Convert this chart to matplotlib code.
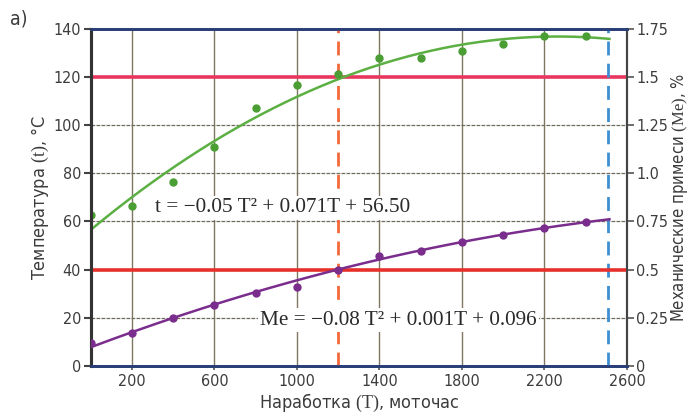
import numpy as np
import matplotlib
matplotlib.use("Agg")
import matplotlib.pyplot as plt
from matplotlib import font_manager

# Operating hours (моточас) at which samples were taken
hours = [0, 200, 400, 600, 800, 1000, 1200, 1400, 1600, 1800, 2000, 2200, 2400]
# Oil temperature, °C (left axis)
temperature = [62.7, 66.5, 76.5, 91.0, 107.0, 116.7, 121.3, 128.0, 127.8, 130.8, 133.8, 137.2, 137.1]
# Mechanical impurities, % (right axis)
impurities = [0.116, 0.171, 0.246, 0.315, 0.380, 0.410, 0.497, 0.570, 0.598, 0.641, 0.679, 0.714, 0.747]

# Quadratic trend coefficients (highest power first)
temp_coef = [-1.568e-5, 0.071, 56.50]
imp_coef = [-5.51e-8, 4.03e-4, 0.096]
trend_end = 2515

# Limits
temp_limit = 120
imp_limit = 0.5
hours_limit = 1200
resource_end = 2510

x_ticks = [200, 600, 1000, 1400, 1800, 2200, 2600]
left_ticks = [0, 20, 40, 60, 80, 100, 120, 140]
right_ticks = [0, 0.25, 0.5, 0.75, 1.0, 1.25, 1.5, 1.75]
right_labels = ["0", "0.25", "0.5", "0.75", "1.0", "1.25", "1.5", "1.75"]

# serif letters inside axis titles
plt.rcParams["mathtext.fontset"] = "custom"
plt.rcParams["mathtext.rm"] = "Liberation Serif"
plt.rcParams["mathtext.it"] = "Liberation Serif:italic"


def cond(size):
    return font_manager.FontProperties(family="DejaVu Sans", stretch="condensed", size=size)


serif = ["Liberation Serif", "DejaVu Serif"]
tick_color = "#3c3c3c"

fig = plt.figure(figsize=(6.89, 4.16), dpi=100)
ax = fig.add_axes([0.1317, 0.1209, 0.7783, 0.8094])
ax2 = ax.twinx()

ax.set_xlim(0, 2600)
ax.set_ylim(0, 140)
ax2.set_ylim(0, 1.75)

# grid
for xv in x_ticks[:-1]:
    ax.axvline(xv, color="#7f765f", lw=1.0, zorder=1)
for yv in [20, 60, 80, 100]:
    ax.axhline(yv, color="#6f6a5c", lw=0.9, ls=(0, (3, 1)), zorder=1)

# limit lines
ax.axhline(temp_limit, color="#e8365e", lw=2.6, zorder=2)
ax2.axhline(imp_limit, color="#e8302a", lw=2.6, zorder=2)
ax.axvline(hours_limit, color="#f4683a", lw=2.0, ls=(0, (5, 3)), zorder=3)
ax.axvline(resource_end, color="#3d8fd1", lw=2.0, ls=(0, (5, 3)), zorder=3)

# temperature trend and points
T = np.linspace(0, trend_end, 300)
ax.plot(T, np.polyval(temp_coef, T), color="#5cb043", lw=1.8, zorder=4)
ax.plot(hours, temperature, "o", color="#4a9e33", ms=5, zorder=5)

# impurity trend and points
ax2.plot(T, np.polyval(imp_coef, T), color="#7a2d8c", lw=1.8, zorder=4)
ax2.plot(hours, impurities, "o", color="#7a2d8c", ms=5, zorder=5)

# equations
ax2.text(311, 65.6 / 80, "t = \u22120.05 T\u00b2 + 0.071T + 56.50", fontsize=15.3,
         family=serif, color="#2a2a2a", va="center", ha="left", zorder=6,
         bbox=dict(facecolor="white", edgecolor="none", pad=1.5))
ax2.text(821, 19.0 / 80, "Me = \u22120.08 T\u00b2 + 0.001T + 0.096", fontsize=15.3,
         family=serif, color="#2a2a2a", va="center", ha="left", zorder=6,
         bbox=dict(facecolor="white", edgecolor="none", pad=1.5))

# ticks
ax.set_xticks(x_ticks)
ax.set_xticklabels([str(v) for v in x_ticks], fontproperties=cond(11.5), color=tick_color)
ax.set_yticks(left_ticks)
ax.set_yticklabels([str(v) for v in left_ticks], fontproperties=cond(11.5), color=tick_color)
ax2.set_yticks(right_ticks)
ax2.set_yticklabels(right_labels, fontproperties=cond(11.5), color=tick_color)
ax.tick_params(axis="x", length=3, width=1.2, color="#555555", pad=3)
ax.tick_params(axis="y", length=5, width=1.5, color="#444444", pad=2)
ax2.tick_params(axis="y", length=5, width=1.2, color="#555555", pad=1.5)

# spines
for a in (ax, ax2):
    a.spines["top"].set_color("#2a3f78")
    a.spines["top"].set_linewidth(2.0)
    a.spines["bottom"].set_color("#2a3f78")
    a.spines["bottom"].set_linewidth(2.0)
    a.spines["left"].set_color("#333333")
    a.spines["left"].set_linewidth(2.2)
    a.spines["right"].set_color("#444444")
    a.spines["right"].set_linewidth(1.5)

ax.set_xlabel("Наработка $\\mathrm{(T)}$, моточас", fontproperties=cond(13),
              color=tick_color, labelpad=2)
ax.set_ylabel("Температура $\\mathrm{(t)}$, °C", fontproperties=cond(13),
              color=tick_color, labelpad=2)
ax2.set_ylabel("Механические примеси $\\mathrm{(Me)}$, %", fontproperties=cond(12),
               color=tick_color, rotation=90, labelpad=1)

fig.text(0.015, 0.955, "а)", fontproperties=cond(14), color=tick_color, va="center")

fig.savefig("out.png", dpi=100)
